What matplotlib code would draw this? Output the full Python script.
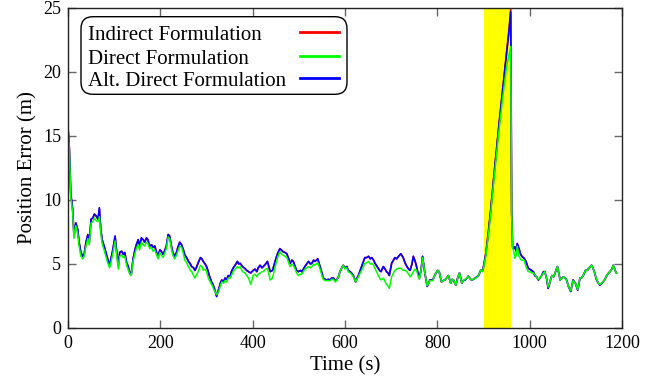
import matplotlib
matplotlib.use("Agg")
import matplotlib.pyplot as plt
from matplotlib.patches import FancyBboxPatch

plt.rcParams['font.family'] = ['Liberation Serif', 'DejaVu Serif']

time_s = [0, 3, 6, 10, 13, 17, 21, 24, 28, 32, 35, 39, 43, 46, 50, 54, 57, 61, 65, 68,
          71, 74, 79, 82, 86, 90, 93, 97, 102, 105, 109, 112, 116, 120, 123, 127, 130, 134, 137, 141,
          145, 148, 152, 155, 159, 163, 166, 170, 173, 177, 181, 184, 188, 191, 195, 199, 202, 206, 209, 213,
          217, 220, 224, 227, 231, 235, 238, 242, 246, 250, 253, 257, 261, 265, 268, 272, 275, 279, 282, 287,
          290, 293, 297, 300, 303, 306, 311, 314, 317, 322, 327, 330, 333, 337, 340, 344, 347, 351, 354, 358,
          362, 367, 370, 373, 378, 383, 387, 391, 396, 401, 405, 409, 412, 416, 420, 423, 428, 432, 435, 438,
          443, 447, 451, 455, 459, 462, 466, 470, 474, 478, 481, 485, 488, 492, 495, 499, 503, 506, 510, 513,
          517, 521, 525, 528, 532, 535, 538, 541, 546, 550, 553, 557, 560, 564, 568, 571, 575, 579, 582, 586,
          589, 593, 596, 600, 604, 607, 611, 614, 618, 623, 626, 629, 633, 636, 640, 643, 647, 651, 655, 658,
          662, 665, 668, 672, 675, 678, 683, 687, 690, 693, 696, 701, 705, 708, 712, 716, 721, 726, 730, 734,
          738, 741, 745, 748, 752, 755, 758, 761, 765, 768, 773, 778, 781, 784, 790, 793, 797, 801, 804, 809,
          813, 816, 820, 824, 829, 832, 835, 840, 844, 848, 853, 856, 860, 864, 867, 870, 874, 878, 882, 886,
          889, 894, 898, 900, 905, 910, 915, 920, 925, 930, 935, 940, 945, 950, 955, 959, 961, 963, 966, 968,
          971, 973, 977, 980, 983, 988, 992, 997, 1000, 1004, 1008, 1011, 1015, 1019, 1022, 1026, 1030, 1033, 1037, 1040,
          1044, 1048, 1052, 1055, 1060, 1063, 1066, 1070, 1073, 1077, 1080, 1084, 1089, 1094, 1099, 1104, 1109, 1112, 1116, 1121,
          1125, 1128, 1134, 1137, 1140, 1145, 1149, 1152, 1159, 1163, 1167, 1171, 1174, 1178, 1181, 1185, 1188]

alt_direct_err = [15.7, 14.0, 10.5, 9.3, 7.2, 8.2, 7.7, 6.7, 5.9, 5.6, 5.75, 6.7, 7.3, 6.7, 8.5, 8.6, 8.9, 8.75, 8.5, 9.4,
                  7.7, 6.9, 6.3, 5.9, 5.4, 4.85, 5.4, 6.1, 7.2, 6.1, 4.85, 5.9, 6.0, 5.75, 5.9, 5.1, 4.85, 4.3, 4.2, 5.4,
                  6.1, 6.5, 6.9, 6.4, 7.05, 6.9, 6.7, 7.05, 6.9, 6.4, 6.5, 6.3, 6.4, 6.0, 5.6, 6.1, 6.0, 5.75, 6.0, 6.4,
                  7.3, 7.2, 6.4, 5.9, 5.6, 5.9, 6.3, 6.7, 6.5, 6.1, 5.7, 5.5, 5.2, 5.0, 4.8, 4.7, 4.5, 4.8, 5.1, 5.5,
                  5.4, 5.2, 5.0, 4.8, 4.5, 4.1, 3.6, 3.4, 3.1, 2.45, 3.1, 3.5, 3.75, 3.6, 3.9, 3.8, 4.1, 4.0, 4.4, 4.7,
                  4.9, 5.2, 5.0, 5.05, 4.8, 4.66, 4.5, 4.4, 4.3, 4.5, 4.6, 4.4, 4.7, 4.9, 4.7, 4.8, 5.0, 5.2, 4.8, 4.4,
                  4.5, 5.0, 5.5, 5.9, 6.2, 6.1, 5.96, 5.9, 5.8, 5.4, 5.05, 5.3, 5.2, 4.8, 4.5, 4.4, 4.5, 4.4, 4.6, 4.8,
                  5.0, 5.2, 5.0, 5.05, 5.3, 5.2, 5.3, 5.4, 4.8, 4.3, 3.9, 3.8, 3.75, 3.8, 3.75, 3.9, 3.9, 3.7, 3.75, 4.0,
                  4.4, 4.7, 4.9, 4.7, 4.8, 4.5, 4.4, 4.3, 4.1, 3.6, 3.9, 4.1, 4.5, 4.8, 5.2, 5.5, 5.5, 5.6, 5.4, 5.5,
                  5.3, 5.05, 4.9, 4.66, 4.5, 4.4, 4.8, 4.6, 4.4, 4.3, 4.1, 5.05, 5.3, 5.5, 5.4, 5.6, 5.8, 5.5, 5.1, 4.8,
                  4.6, 4.5, 5.0, 5.6, 5.2, 4.8, 4.3, 3.9, 4.6, 5.6, 4.3, 3.25, 3.5, 3.75, 3.75, 4.0, 4.3, 4.5, 4.4, 3.6,
                  3.7, 3.75, 3.9, 4.1, 3.5, 3.8, 3.75, 3.35, 3.9, 4.3, 3.5, 3.7, 3.75, 3.9, 4.05, 3.9, 3.75, 3.8, 3.9, 4.0,
                  4.1, 4.5, 4.5, 4.8, 5.8, 7.3, 9.0, 10.9, 12.8, 14.6, 16.4, 18.1, 19.8, 21.5, 23.1, 24.7, 9.0, 6.3, 6.2, 6.35,
                  6.0, 6.6, 6.2, 5.8, 5.6, 5.45, 5.2, 4.66, 4.6, 4.5, 4.4, 4.1, 4.0, 3.75, 3.9, 4.1, 4.4, 4.4, 3.8, 3.1,
                  3.6, 4.1, 4.0, 4.3, 4.8, 4.3, 3.75, 3.9, 4.0, 3.9, 3.75, 3.25, 2.85, 3.75, 3.5, 2.96, 3.9, 3.9, 4.1, 4.5,
                  4.5, 4.66, 4.9, 4.7, 4.4, 3.75, 3.5, 3.35, 3.6, 3.8, 4.1, 4.3, 4.4, 4.6, 4.9, 4.5, 4.3]

indirect_err = [15.7, 14.0, 10.5, 9.3, 7.2, 8.2, 7.7, 6.7, 5.9, 5.6, 5.75, 6.7, 7.3, 6.7, 8.5, 8.6, 8.9, 8.75, 8.5, 9.3,
                7.7, 6.9, 6.3, 5.9, 5.4, 4.85, 5.4, 6.1, 7.1, 6.1, 4.85, 5.9, 6.0, 5.75, 5.9, 5.1, 4.85, 4.3, 4.2, 5.4,
                6.1, 6.5, 6.9, 6.4, 7.0, 6.9, 6.7, 7.0, 6.9, 6.4, 6.5, 6.3, 6.4, 6.0, 5.6, 6.1, 6.0, 5.75, 6.0, 6.4,
                7.3, 7.2, 6.4, 5.9, 5.6, 5.9, 6.3, 6.7, 6.5, 6.1, 5.7, 5.5, 5.2, 5.0, 4.8, 4.7, 4.5, 4.8, 5.1, 5.5,
                5.4, 5.2, 5.0, 4.8, 4.5, 4.1, 3.6, 3.4, 3.1, 2.5, 3.1, 3.5, 3.75, 3.6, 3.9, 3.8, 4.1, 4.0, 4.4, 4.7,
                4.9, 5.2, 5.0, 5.05, 4.8, 4.66, 4.5, 4.4, 4.3, 4.5, 4.6, 4.4, 4.7, 4.9, 4.7, 4.8, 5.0, 5.2, 4.8, 4.4,
                4.5, 5.0, 5.5, 5.9, 6.2, 6.1, 5.96, 5.9, 5.8, 5.4, 5.05, 5.3, 5.2, 4.8, 4.5, 4.4, 4.5, 4.4, 4.6, 4.8,
                5.0, 5.2, 5.0, 5.05, 5.3, 5.2, 5.3, 5.4, 4.8, 4.3, 3.9, 3.8, 3.75, 3.8, 3.75, 3.9, 3.9, 3.7, 3.75, 4.0,
                4.4, 4.7, 4.9, 4.7, 4.8, 4.5, 4.4, 4.3, 4.1, 3.6, 3.9, 4.1, 4.5, 4.8, 5.2, 5.5, 5.5, 5.6, 5.4, 5.5,
                5.3, 5.05, 4.9, 4.66, 4.5, 4.4, 4.8, 4.6, 4.4, 4.3, 4.1, 5.05, 5.3, 5.5, 5.4, 5.6, 5.8, 5.5, 5.1, 4.8,
                4.6, 4.5, 5.0, 5.6, 5.2, 4.8, 4.3, 3.9, 4.6, 5.6, 4.3, 3.25, 3.5, 3.75, 3.75, 4.0, 4.3, 4.5, 4.4, 3.6,
                3.7, 3.75, 3.9, 4.1, 3.5, 3.8, 3.75, 3.35, 3.9, 4.3, 3.5, 3.7, 3.75, 3.9, 4.05, 3.9, 3.75, 3.8, 3.9, 4.0,
                4.1, 4.5, 4.5, 4.8, 5.8, 7.3, 9.0, 10.9, 12.8, 14.6, 16.4, 18.1, 19.8, 21.5, 23.2, 24.9, 9.0, 6.3, 6.2, 6.35,
                6.0, 6.6, 6.2, 5.8, 5.6, 5.45, 5.2, 4.66, 4.6, 4.5, 4.4, 4.1, 4.0, 3.75, 3.9, 4.1, 4.4, 4.4, 3.8, 3.1,
                3.6, 4.1, 4.0, 4.3, 4.8, 4.3, 3.75, 3.9, 4.0, 3.9, 3.75, 3.25, 2.85, 3.75, 3.5, 2.96, 3.9, 3.9, 4.1, 4.5,
                4.5, 4.66, 4.9, 4.7, 4.4, 3.75, 3.5, 3.35, 3.6, 3.8, 4.1, 4.3, 4.4, 4.6, 4.9, 4.5, 4.3]

direct_err = [15.7, 13.8, 10.2, 9.1, 7.0, 8.0, 7.4, 6.4, 5.6, 5.4, 5.6, 6.4, 7.0, 6.5, 8.2, 8.3, 8.6, 8.4, 8.3, 8.7,
              7.4, 6.6, 6.0, 5.6, 5.1, 4.7, 5.1, 5.8, 6.8, 5.8, 4.6, 5.6, 5.7, 5.5, 5.6, 4.9, 4.6, 4.2, 4.1, 5.2,
              5.8, 6.2, 6.5, 6.1, 6.7, 6.5, 6.4, 6.7, 6.6, 6.2, 6.3, 6.0, 6.1, 5.8, 5.4, 5.9, 5.7, 5.5, 5.8, 6.2,
              7.1, 7.0, 6.2, 5.7, 5.4, 5.7, 6.0, 6.4, 6.3, 5.8, 5.3, 5.1, 4.8, 4.5, 4.4, 4.1, 3.9, 4.2, 4.4, 4.9,
              4.8, 4.5, 4.6, 4.4, 4.0, 3.75, 3.4, 3.2, 2.9, 2.6, 2.9, 3.3, 3.6, 3.5, 3.7, 3.6, 3.9, 3.9, 4.1, 4.4,
              4.6, 4.8, 4.7, 4.8, 4.4, 4.3, 4.1, 3.9, 3.4, 4.1, 4.2, 4.0, 4.2, 4.3, 4.4, 4.4, 4.6, 4.66, 4.2, 3.75,
              3.9, 4.5, 5.1, 5.6, 5.96, 5.8, 5.7, 5.6, 5.5, 5.1, 4.8, 5.0, 4.9, 4.6, 4.3, 4.1, 4.2, 4.2, 4.4, 4.6,
              4.7, 4.8, 4.7, 4.8, 5.0, 4.9, 5.0, 5.1, 4.6, 4.1, 3.8, 3.7, 3.7, 3.7, 3.7, 3.8, 3.8, 3.6, 3.7, 4.0,
              4.4, 4.7, 4.9, 4.6, 4.7, 4.4, 4.3, 4.2, 4.0, 3.6, 3.8, 4.0, 4.3, 4.5, 4.8, 5.05, 5.1, 5.2, 5.0, 5.05,
              4.9, 4.66, 4.4, 4.1, 3.9, 3.75, 3.9, 3.6, 3.4, 3.3, 3.1, 4.0, 4.3, 4.5, 4.6, 4.66, 4.66, 4.5, 4.5, 4.4,
              4.2, 4.0, 4.2, 4.4, 4.6, 4.5, 4.1, 3.8, 4.6, 5.5, 4.3, 3.3, 3.5, 3.7, 3.7, 4.0, 4.3, 4.5, 4.4, 3.6,
              3.7, 3.75, 3.9, 4.1, 3.5, 3.8, 3.75, 3.35, 3.9, 4.3, 3.5, 3.7, 3.8, 3.9, 4.05, 3.9, 3.75, 3.8, 3.9, 3.95,
              4.1, 4.5, 4.4, 4.7, 5.6, 7.1, 8.7, 10.6, 12.4, 14.2, 15.9, 17.5, 19.0, 20.4, 21.3, 22.0, 9.0, 6.3, 5.9, 5.45,
              5.7, 6.4, 5.6, 5.4, 5.3, 5.3, 4.8, 4.4, 4.4, 4.3, 4.3, 4.2, 4.0, 3.8, 3.9, 4.1, 4.3, 4.4, 3.8, 3.2,
              3.6, 4.1, 4.0, 4.3, 4.8, 4.3, 3.75, 3.9, 4.0, 3.9, 3.75, 3.25, 2.9, 3.7, 3.5, 3.0, 3.9, 3.9, 4.1, 4.5,
              4.5, 4.66, 4.9, 4.7, 4.4, 3.8, 3.5, 3.4, 3.6, 3.8, 4.1, 4.3, 4.4, 4.6, 4.9, 4.5, 4.3]

series_labels = ['Indirect Formulation', 'Direct Formulation', 'Alt. Direct Formulation']
series_colors = ['#ff0000', '#00ff00', '#0000ff']
outage_window = [900, 960]
x_ticks = [0, 200, 400, 600, 800, 1000, 1200]
y_ticks = [0, 5, 10, 15, 20, 25]

fig = plt.figure(figsize=(6.57, 3.79), dpi=100)
ax = fig.add_axes([68 / 657, 51 / 379, 554 / 657, 320 / 379])

ax.axvspan(outage_window[0], outage_window[1], color='#ffff00', zorder=1, lw=0)

# drawing order: red, blue, then green on top (green shows where curves coincide)
ax.plot(time_s, indirect_err, color=series_colors[0], lw=1.2, zorder=2)
ax.plot(time_s, alt_direct_err, color=series_colors[2], lw=1.2, zorder=3)
ax.plot(time_s, direct_err, color=series_colors[1], lw=1.1, zorder=4)

ax.set_xlim(0, 1200)
ax.set_ylim(0, 25)
ax.set_xticks(x_ticks)
ax.set_yticks(y_ticks)
ax.tick_params(direction='in', length=6, width=1, color='#666666', top=True, right=True,
               labelsize=13, pad=5)
for s in ax.spines.values():
    s.set_color('#222222')
    s.set_linewidth(1.0)
    s.set_zorder(5)

ax.set_xlabel('Time (s)', fontsize=15, labelpad=3)
ax.set_ylabel('Position Error (m)', fontsize=15, labelpad=4)

# legend (gnuplot-style: left-aligned text, samples on the right, rounded box)
box = FancyBboxPatch((0.81, 2.847), 2.66, 0.776,
                     boxstyle='round,pad=0,rounding_size=0.12',
                     transform=fig.dpi_scale_trans, facecolor='white',
                     edgecolor='black', lw=1.0, zorder=10)
fig.add_artist(box)
text_y = [(379 - 36) / 379, (379 - 59) / 379, (379 - 82) / 379]
line_y = [(379 - 31.7) / 379, (379 - 55.7) / 379, (379 - 78.3) / 379]
for lab, col, ty, ly in zip(series_labels, series_colors, text_y, line_y):
    fig.text(88 / 657, ty, lab, fontsize=15, va='center', ha='left', zorder=11)
    fig.add_artist(plt.Line2D([300 / 657, 339 / 657], [ly, ly], color=col, lw=2.0,
                              transform=fig.transFigure, zorder=11))

fig.savefig('out.png', dpi=100)
